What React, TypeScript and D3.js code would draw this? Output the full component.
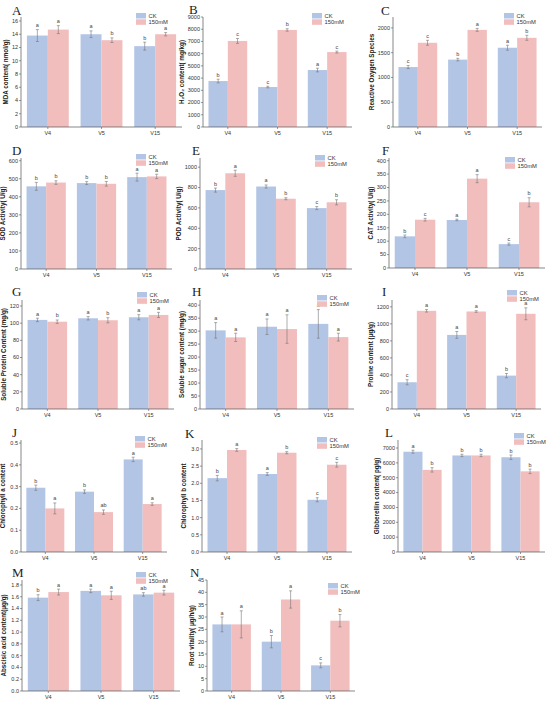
import * as d3 from "d3";

const groups = ["V4", "V5", "V15"];
const seriesNames = ["CK", "150mM"];
const seriesColors = ["#b3c5e5", "#f1bdbd"];

// A  MDA
const mdaCK = [13.8, 14.0, 12.2];
const mdaSalt = [14.7, 13.1, 14.0];
const mdaErr = [[0.9, 0.6], [0.5, 0.35], [0.6, 0.25]];
const mdaSig = [["a", "a"], ["a", "b"], ["b", "a"]];
const mdaTicks = [0, 2, 4, 6, 8, 10, 12, 14, 16];

// B  H2O2
const h2o2CK = [3760, 3270, 4660];
const h2o2Salt = [7040, 7940, 6130];
const h2o2Err = [[150, 200], [70, 100], [150, 80]];
const h2o2Sig = [["b", "c"], ["c", "b"], ["a", "c"]];
const h2o2Ticks = [0, 1000, 2000, 3000, 4000, 5000, 6000, 7000, 8000, 9000];

// C  ROS
const rosCK = [1210, 1360, 1600];
const rosSalt = [1700, 1960, 1800];
const rosErr = [[30, 50], [25, 30], [50, 50]];
const rosSig = [["c", "c"], ["b", "a"], ["a", "b"]];
const rosTicks = [0, 500, 1000, 1500, 2000];

// D  SOD
const sodCK = [458, 476, 509];
const sodSalt = [479, 472, 513];
const sodErr = [[22, 10], [8, 13], [22, 12]];
const sodSig = [["b", "b"], ["b", "b"], ["a", "a"]];
const sodTicks = [0, 100, 200, 300, 400, 500, 600];

// E  POD
const podCK = [775, 810, 598];
const podSalt = [940, 690, 655];
const podErr = [[20, 30], [15, 10], [15, 25]];
const podSig = [["b", "a"], ["a", "b"], ["c", "b"]];
const podTicks = [0, 200, 400, 600, 800, 1000];

// F  CAT
const catCK = [118, 179, 89];
const catSalt = [180, 333, 245];
const catErr = [[5, 5], [3, 15], [4, 17]];
const catSig = [["b", "c"], ["a", "a"], ["c", "b"]];
const catTicks = [0, 50, 100, 150, 200, 250, 300, 350, 400];

// G  soluble protein
const proteinCK = [103.8, 105.7, 106.9];
const proteinSalt = [101.7, 103.4, 109.6];
const proteinErr = [[2, 2], [2, 3], [3, 3]];
const proteinSig = [["a", "b"], ["a", "b"], ["a", "a"]];
const proteinTicks = [0, 20, 40, 60, 80, 100, 120];

// H  soluble sugar
const sugarCK = [303, 317, 328];
const sugarSalt = [276, 308, 277];
const sugarErr = [[30, 16], [30, 55], [55, 15]];
const sugarSig = [["a", "a"], ["a", "a"], ["a", "a"]];
const sugarTicks = [0, 50, 100, 150, 200, 250, 300, 350, 400];

// I  proline
const prolineCK = [314, 870, 392];
const prolineSalt = [1153, 1145, 1118];
const prolineErr = [[30, 15], [40, 10], [25, 70]];
const prolineSig = [["c", "a"], ["a", "a"], ["b", "a"]];
const prolineTicks = [0, 200, 400, 600, 800, 1000, 1200];

// J  chlorophyll a
const chlACK = [0.295, 0.277, 0.425];
const chlASalt = [0.2, 0.183, 0.22];
const chlAErr = [[0.012, 0.025], [0.008, 0.01], [0.01, 0.006]];
const chlASig = [["b", "a"], ["b", "ab"], ["a", "a"]];
const chlATicks = [0, 0.1, 0.2, 0.3, 0.4, 0.5];

// K  chlorophyll b
const chlBCK = [2.15, 2.27, 1.52];
const chlBSalt = [2.97, 2.89, 2.54];
const chlBErr = [[0.08, 0.04], [0.04, 0.03], [0.06, 0.07]];
const chlBSig = [["b", "a"], ["a", "b"], ["c", "c"]];
const chlBTicks = [0, 0.5, 1.0, 1.5, 2.0, 2.5, 3.0];

// L  gibberellin
const gaCK = [6750, 6500, 6380];
const gaSalt = [5530, 6500, 5430];
const gaErr = [[100, 150], [80, 80], [150, 150]];
const gaSig = [["a", "b"], ["b", "b"], ["b", "b"]];
const gaTicks = [0, 1000, 2000, 3000, 4000, 5000, 6000, 7000];

// M  abscisic acid
const abaCK = [1.585, 1.7, 1.64];
const abaSalt = [1.68, 1.625, 1.67];
const abaErr = [[0.05, 0.05], [0.03, 0.07], [0.03, 0.04]];
const abaSig = [["b", "a"], ["a", "a"], ["ab", "a"]];
const abaTicks = [0, 0.2, 0.4, 0.6, 0.8, 1.0, 1.2, 1.4, 1.6, 1.8];

// N  root vitality
const rootCK = [27.0, 20.0, 10.4];
const rootSalt = [27.0, 37.1, 28.5];
const rootErr = [[3, 5.5], [2.5, 3.5], [1, 2.5]];
const rootSig = [["a", "a"], ["b", "a"], ["c", "b"]];
const rootTicks = [0, 5, 10, 15, 20, 25, 30, 35, 40, 45];

const panels = [
  { id: "A", label: "MDA content( nmol/g)", ck: mdaCK, salt: mdaSalt, err: mdaErr, sig: mdaSig, ticks: mdaTicks, fmt: "d" },
  { id: "B", label: "H\u2082O\u2082 content( mg/kg)", ck: h2o2CK, salt: h2o2Salt, err: h2o2Err, sig: h2o2Sig, ticks: h2o2Ticks, fmt: "d" },
  { id: "C", label: "Reactive Oxygen Species", ck: rosCK, salt: rosSalt, err: rosErr, sig: rosSig, ticks: rosTicks, fmt: "d" },
  { id: "D", label: "SOD Activity( U/g)", ck: sodCK, salt: sodSalt, err: sodErr, sig: sodSig, ticks: sodTicks, fmt: "d" },
  { id: "E", label: "POD Activity( U/g)", ck: podCK, salt: podSalt, err: podErr, sig: podSig, ticks: podTicks, fmt: "d" },
  { id: "F", label: "CAT Activity( U/g)", ck: catCK, salt: catSalt, err: catErr, sig: catSig, ticks: catTicks, fmt: "d" },
  { id: "G", label: "Soluble Protein Content (mg/g)", ck: proteinCK, salt: proteinSalt, err: proteinErr, sig: proteinSig, ticks: proteinTicks, fmt: "d" },
  { id: "H", label: "Soluble sugar content (mg/g)", ck: sugarCK, salt: sugarSalt, err: sugarErr, sig: sugarSig, ticks: sugarTicks, fmt: "d" },
  { id: "I", label: "Proline content (\u03bcg/g)", ck: prolineCK, salt: prolineSalt, err: prolineErr, sig: prolineSig, ticks: prolineTicks, fmt: "d" },
  { id: "J", label: "Chlorophyll a content", ck: chlACK, salt: chlASalt, err: chlAErr, sig: chlASig, ticks: chlATicks, fmt: ".1f" },
  { id: "K", label: "Chlorophyll b content", ck: chlBCK, salt: chlBSalt, err: chlBErr, sig: chlBSig, ticks: chlBTicks, fmt: ".1f" },
  { id: "L", label: "Gibberellin content( pg/g)", ck: gaCK, salt: gaSalt, err: gaErr, sig: gaSig, ticks: gaTicks, fmt: "d" },
  { id: "M", label: "Abscisic acid content(\u03bcg/g)", ck: abaCK, salt: abaSalt, err: abaErr, sig: abaSig, ticks: abaTicks, fmt: ".1f" },
  { id: "N", label: "Root vitality( \u03bcg/h/g)", ck: rootCK, salt: rootSalt, err: rootErr, sig: rootSig, ticks: rootTicks, fmt: "d" },
];

// plot frames, axis top value, panel letter and legend positions
const layout: Record<string, any> = {
  A: { x0: 21, x1: 182, y0: 17, y1: 127, top: 16.6, lx: 12, ly: 15, gx: 136, gy: 13 },
  B: { x0: 203, x1: 352, y0: 17, y1: 127, top: 9000, lx: 189, ly: 13.5, gx: 312, gy: 13 },
  C: { x0: 393, x1: 542, y0: 17, y1: 127, top: 2220, lx: 381, ly: 15, gx: 504, gy: 13 },
  D: { x0: 21, x1: 172, y0: 158, y1: 269, top: 615, lx: 12, ly: 155, gx: 136, gy: 154 },
  E: { x0: 200, x1: 352, y0: 158, y1: 269, top: 1090, lx: 192, ly: 155, gx: 315, gy: 155 },
  F: { x0: 389, x1: 545, y0: 158, y1: 268, top: 410, lx: 382, ly: 155, gx: 505, gy: 157 },
  G: { x0: 22, x1: 174, y0: 300, y1: 409, top: 127, lx: 12, ly: 296, gx: 137, gy: 292 },
  H: { x0: 200, x1: 354, y0: 300, y1: 409, top: 420, lx: 192, ly: 296, gx: 317, gy: 295 },
  I: { x0: 392, x1: 541, y0: 300, y1: 409, top: 1280, lx: 382, ly: 296, gx: 507, gy: 290 },
  J: { x0: 21, x1: 167, y0: 440, y1: 552, top: 0.514, lx: 12, ly: 437, gx: 135, gy: 436 },
  K: { x0: 202, x1: 352, y0: 440, y1: 552, top: 3.26, lx: 185, ly: 438, gx: 317, gy: 437 },
  L: { x0: 398, x1: 545, y0: 440, y1: 552, top: 7540, lx: 385, ly: 437, gx: 514, gy: 433 },
  M: { x0: 22, x1: 180, y0: 580, y1: 691, top: 1.885, lx: 12, ly: 577, gx: 136, gy: 572 },
  N: { x0: 207, x1: 355, y0: 580, y1: 691, top: 45, lx: 190, ly: 577, gx: 328, gy: 583 },
};

const sans = "'Liberation Sans', Arial, sans-serif";
const axisColor = "#555";

function Panel({ p }: { p: (typeof panels)[number] }) {
  const L = layout[p.id];
  const x = d3.scaleBand<string>().domain(groups).range([L.x0, L.x1]).paddingInner(0.22).paddingOuter(0.11);
  const sub = d3.scaleBand<string>().domain(seriesNames).range([0, x.bandwidth()]);
  const y = d3.scaleLinear().domain([0, L.top]).range([L.y1, L.y0]);
  const fmt = d3.format(p.fmt);
  const tickChars = d3.max(p.ticks, t => fmt(t).length) ?? 1;
  const labelX = L.x0 - 3 - tickChars * 3.1 - 3.5;
  const values = [p.ck, p.salt];

  return (
    <g>
      <text x={L.lx} y={L.ly} fontFamily="'Liberation Serif', 'Times New Roman', serif" fontSize={13} fill="#222">
        {p.id}
      </text>

      {groups.map((g, gi) =>
        seriesNames.map((s, si) => {
          const v = values[si][gi];
          const e = p.err[gi][si];
          const bx = x(g)! + sub(s)!;
          const cx = bx + sub.bandwidth() / 2;
          return (
            <g key={g + s}>
              <rect x={bx} y={y(v)} width={sub.bandwidth()} height={y(0) - y(v)} fill={seriesColors[si]} />
              <line x1={cx} x2={cx} y1={y(v - e)} y2={y(v + e)} stroke="#777" strokeWidth={0.6} />
              <line x1={cx - 1.5} x2={cx + 1.5} y1={y(v + e)} y2={y(v + e)} stroke="#777" strokeWidth={0.6} />
              <line x1={cx - 1.5} x2={cx + 1.5} y1={y(v - e)} y2={y(v - e)} stroke="#777" strokeWidth={0.6} />
              <text x={cx} y={y(v + e) - 2.5} textAnchor="middle" fontFamily={sans} fontSize={5.5} fill="#444">
                {p.sig[gi][si]}
              </text>
            </g>
          );
        })
      )}

      {/* y axis */}
      <line x1={L.x0} x2={L.x0} y1={L.y0} y2={L.y1} stroke={axisColor} strokeWidth={0.7} />
      {p.ticks.map(t => (
        <g key={t}>
          <line x1={L.x0 - 2} x2={L.x0} y1={y(t)} y2={y(t)} stroke={axisColor} strokeWidth={0.6} />
          <text x={L.x0 - 3} y={y(t) + 1.9} textAnchor="end" fontFamily={sans} fontSize={5.5} fill="#333">
            {fmt(t)}
          </text>
        </g>
      ))}
      <text
        transform={`translate(${labelX},${(L.y0 + L.y1) / 2}) rotate(-90)`}
        textAnchor="middle"
        fontFamily={sans}
        fontWeight="bold"
        fontSize={6.3}
        fill="#222"
      >
        {p.label}
      </text>

      {/* x axis */}
      <line x1={L.x0} x2={L.x1} y1={L.y1} y2={L.y1} stroke={axisColor} strokeWidth={0.7} />
      {groups.map(g => {
        const cx = x(g)! + x.bandwidth() / 2;
        return (
          <g key={g}>
            <line x1={cx} x2={cx} y1={L.y1} y2={L.y1 + 2} stroke={axisColor} strokeWidth={0.6} />
            <text x={cx} y={L.y1 + 8} textAnchor="middle" fontFamily={sans} fontSize={5.5} fill="#333">
              {g}
            </text>
          </g>
        );
      })}

      {/* legend */}
      {seriesNames.map((s, si) => (
        <g key={s}>
          <rect x={L.gx} y={L.gy + si * 6.3} width={10} height={5.5} fill={seriesColors[si]} />
          <text x={L.gx + 12.5} y={L.gy + si * 6.3 + 4.8} fontFamily={sans} fontSize={5.8} fill="#333">
            {s}
          </text>
        </g>
      ))}
    </g>
  );
}

export default function App() {
  return (
    <svg width={550} height={702} style={{ position: "absolute", left: 0, top: 0, background: "#fff" }}>
      <rect width={550} height={702} fill="#fff" />
      {panels.map(p => (
        <Panel key={p.id} p={p} />
      ))}
    </svg>
  );
}
